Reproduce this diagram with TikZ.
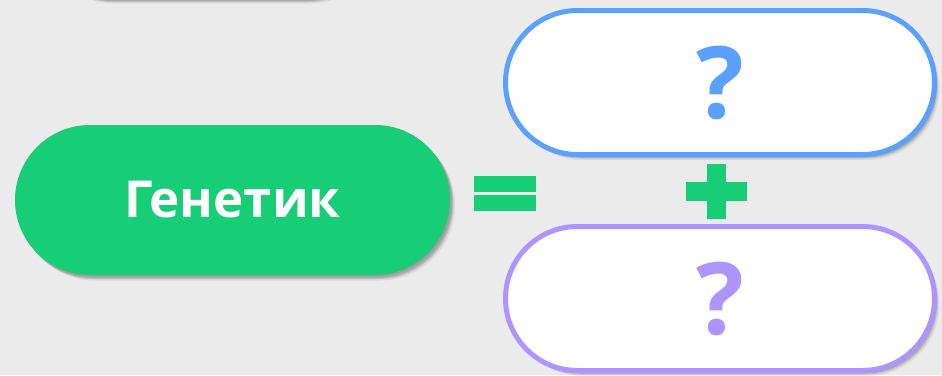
\documentclass[tikz,border=0pt]{standalone}
\usepackage{fontspec}
\setmainfont{Open Sans}
\usetikzlibrary{shadows}
\definecolor{bg}{HTML}{EBEBEB}
\definecolor{gr}{HTML}{17CD76}
\definecolor{bl}{HTML}{5BA0FF}
\definecolor{pu}{HTML}{AE94FF}
\tikzset{
  softshadow/.style={
    general shadow={shadow xshift=1.5pt, shadow yshift=-1.5pt, fill=black, opacity=0.08},
    general shadow={shadow xshift=2.5pt, shadow yshift=-3pt, fill=black, opacity=0.10},
    general shadow={shadow xshift=3.5pt, shadow yshift=-4pt, fill=black, opacity=0.12},
    general shadow={shadow xshift=5pt, shadow yshift=-5.5pt, fill=black, opacity=0.07}},
  pill/.style={rectangle, inner sep=0pt, softshadow},
  qmark/.style={font=\bfseries\fontsize{100}{100}\selectfont}
}
\begin{document}
\begin{tikzpicture}[x=1pt,y=-1pt]
\useasboundingbox (0,0) rectangle (942,375);
\clip (0,0) rectangle (942,375);
\fill[bg] (0,0) rectangle (942,375);
% partly hidden shape above the frame
\node[pill, fill=white, minimum width=336pt, minimum height=140pt, rounded corners=70pt] (top) at (207,-72) {};
% main green pill
\node[pill, fill=gr, minimum width=435pt, minimum height=150pt, rounded corners=75pt,
      text=white, font=\bfseries\fontsize{51}{51}\selectfont] (gen) at (232.5,200) {Генетик};
% blue pill
\node[pill, fill=white, draw=bl, line width=5pt, minimum width=429pt, minimum height=144pt,
      rounded corners=72pt] (b1) at (720,82.5) {};
\node[qmark, text=bl] (q1) at (b1.center) {?};
% purple pill
\node[pill, fill=white, draw=pu, line width=5pt, minimum width=429pt, minimum height=144pt,
      rounded corners=72pt] (b2) at (720,298.5) {};
\node[qmark, text=pu] (q2) at (b2.center) {?};
% equals sign
\fill[gr] (474,176) rectangle (536,192);
\fill[gr] (474,195) rectangle (536,211);
% plus sign
\fill[gr] (686,182) rectangle (747,201);
\fill[gr] (707,164) rectangle (726,219);
\end{tikzpicture}
\end{document}
